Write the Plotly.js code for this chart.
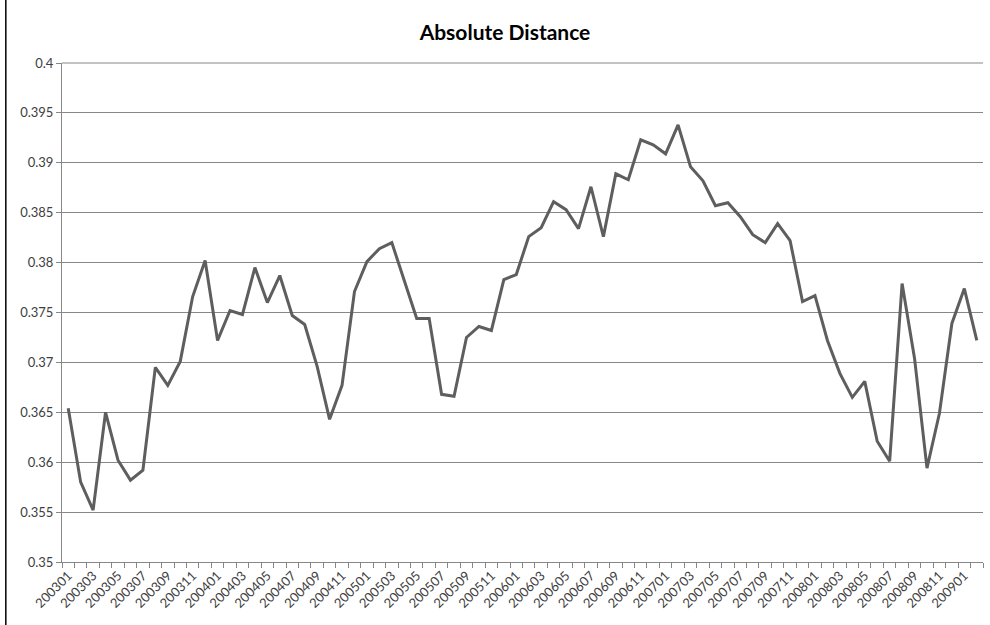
<!DOCTYPE html>
<html>
<head>
<meta charset="utf-8">
<script src="https://cdn.plot.ly/plotly-3.0.1.min.js"></script>
<style>
html,body{margin:0;padding:0;background:#fff;}
#chart{width:990px;height:625px;}
</style>
</head>
<body>
<div id="chart"></div>
<script>
// Monthly periods 200301 .. 200902
const years = [2003, 2004, 2005, 2006, 2007, 2008, 2009];
const months = ['01','02','03','04','05','06','07','08','09','10','11','12'];
const periods = [];
years.forEach(y => months.forEach(m => periods.push(String(y) + m)));
const categories = periods.slice(0, 74);

const distance = [
  0.3654, 0.3580, 0.3552, 0.3650, 0.3602, 0.3582, 0.3592, 0.3695, 0.3677, 0.3701,
  0.3766, 0.3802, 0.3722, 0.3752, 0.3748, 0.3795, 0.3760, 0.3787, 0.3747, 0.3738,
  0.3696, 0.3643, 0.3677, 0.3771, 0.3801, 0.3814, 0.3820, 0.3782, 0.3744, 0.3744,
  0.3668, 0.3666, 0.3725, 0.3736, 0.3732, 0.3783, 0.3788, 0.3826, 0.3835, 0.3861,
  0.3853, 0.3834, 0.3876, 0.3826, 0.3889, 0.3883, 0.3923, 0.3918, 0.3909, 0.3938,
  0.3896, 0.3882, 0.3857, 0.3860, 0.3846, 0.3828, 0.3820, 0.3839, 0.3822, 0.3761,
  0.3767, 0.3722, 0.3689, 0.3665, 0.3681, 0.3621, 0.3601, 0.3779, 0.3704, 0.3594,
  0.3649, 0.3739, 0.3774, 0.3722
];

const tickLabels = categories.map((c, i) => (i % 2 === 0 ? c : ''));

const trace = {
  type: 'scatter',
  mode: 'lines',
  x: categories,
  y: distance,
  line: {color: '#5e5e5e', width: 3},
  hoverinfo: 'x+y'
};

const gridCol = '#878787';

const layout = {
  width: 990,
  height: 625,
  margin: {l: 62, r: 7, t: 63, b: 63},
  paper_bgcolor: '#ffffff',
  plot_bgcolor: '#ffffff',
  showlegend: false,
  font: {family: 'Lato, "Open Sans", sans-serif', color: '#404040', size: 13},
  title: {
    text: '<b>Absolute Distance</b>',
    font: {family: 'Lato, "Open Sans", sans-serif', size: 21, color: '#000000'},
    x: 0.481, xref: 'paper', xanchor: 'center',
    y: 0.947, yref: 'container', yanchor: 'middle'
  },
  xaxis: {
    type: 'category',
    tickmode: 'array',
    tickvals: categories,
    ticktext: tickLabels,
    tickson: 'boundaries',
    ticks: 'outside',
    ticklen: 5,
    tickcolor: gridCol,
    tickangle: -45,
    tickfont: {size: 13, color: '#404040'},
    showgrid: false,
    showline: true,
    linecolor: gridCol,
    linewidth: 1,
    zeroline: false,
    range: [-0.5, categories.length - 0.5],
    fixedrange: true
  },
  yaxis: {
    range: [0.35, 0.4],
    tick0: 0.35,
    dtick: 0.005,
    ticks: 'outside',
    ticklen: 5,
    tickcolor: gridCol,
    tickfont: {size: 13, color: '#404040'},
    showgrid: true,
    gridcolor: gridCol,
    gridwidth: 1,
    showline: true,
    linecolor: gridCol,
    linewidth: 1,
    zeroline: false,
    fixedrange: true
  },
  shapes: [
    {type: 'line', xref: 'paper', yref: 'paper',
     x0: 0, x1: 1, y0: 1, y1: 1, layer: 'below',
     line: {color: gridCol, width: 1}},
    {type: 'line', xref: 'paper', yref: 'paper',
     x0: -0.061, x1: -0.061, y0: -0.2, y1: 1.2,
     line: {color: '#000000', width: 1.5}}
  ]
};

Plotly.newPlot('chart', [trace], layout, {displayModeBar: false, staticPlot: true});
</script>
</body>
</html>
